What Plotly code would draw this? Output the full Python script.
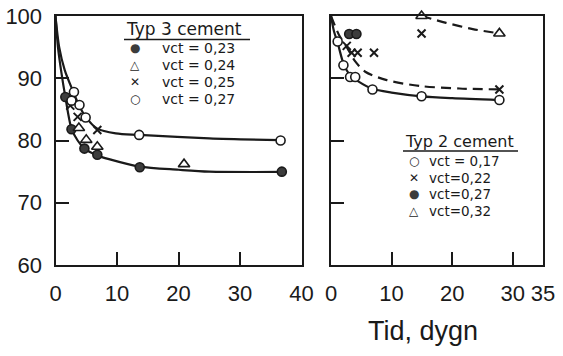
import plotly.graph_objects as go

# ---- Typ 3 cement (left panel) ----
t3_023_x = [1.6, 2.6, 4.7, 6.8, 13.7, 36.8]
t3_023_y = [87.0, 81.8, 78.7, 77.7, 75.7, 75.0]
t3_024_x = [3.8, 5.0, 6.8, 20.9]
t3_024_y = [82.0, 80.1, 79.0, 76.2]
t3_025_x = [2.4, 3.6, 6.8]
t3_025_y = [85.6, 83.8, 81.7]
t3_027_x = [3.0, 2.6, 3.9, 4.9, 13.6, 36.6]
t3_027_y = [87.8, 86.4, 85.7, 83.7, 80.9, 80.0]

# hand-fitted curves, Typ 3
t3_low_x = [0, 0.4, 0.9, 1.6, 2.6, 3.6, 4.7, 6.8, 8.7, 13.7, 20, 25, 36.8]
t3_low_y = [100, 95.0, 91.3, 87.0, 81.9, 80.0, 78.7, 77.6, 77.0, 75.8, 75.3, 75.0, 74.95]
t3_up_x = [0, 0.6, 1.5, 2.9, 3.9, 4.9, 6.8, 9.8, 13.6, 25, 36.6]
t3_up_y = [100, 95.0, 91.3, 87.8, 85.5, 83.8, 81.9, 81.15, 80.9, 80.35, 80.05]

# ---- Typ 2 cement (right panel) ----
t2_017_x = [1.1, 2.05, 3.15, 4.0, 6.85, 14.95, 27.8]
t2_017_y = [95.9, 92.1, 90.2, 90.2, 88.2, 87.1, 86.5]
t2_022_x = [2.6, 3.4, 4.4, 7.1, 14.95, 27.8]
t2_022_y = [95.2, 94.1, 94.1, 94.1, 97.2, 88.2]
t2_027_x = [3.0, 4.2]
t2_027_y = [97.1, 97.1]
t2_032_x = [14.95, 27.8]
t2_032_y = [100.0, 97.2]

# hand-fitted curves, Typ 2
t2_solid_x = [0, 0.5, 1.1, 2.05, 3.15, 4.5, 6.85, 10, 14.95, 20, 27.8]
t2_solid_y = [100, 97.5, 95.7, 92.4, 90.5, 89.5, 88.3, 87.7, 87.1, 86.8, 86.5]
t2_dlow_x = [0, 1.3, 2.6, 4.0, 5.65, 9.2, 14.7, 21.2, 27.8]
t2_dlow_y = [100, 97.0, 95.0, 92.7, 91.05, 89.7, 88.75, 88.35, 88.2]
t2_dup_x = [14.95, 19, 23.4, 27.8]
t2_dup_y = [100.0, 98.9, 97.9, 97.2]

# axis labels
left_ticks = [0, 10, 20, 30, 40]
right_ticks = [0, 10, 20, 30, 35]
y_ticks = [60, 70, 80, 90, 100]
x_title = "Tid, dygn"

legend3_title = "Typ 3 cement"
legend3_rows = ["vct = 0,23", "vct = 0,24", "vct = 0,25", "vct = 0,27"]
legend2_title = "Typ 2 cement"
legend2_rows = ["vct = 0,17", "vct=0,22", "vct=0,27", "vct=0,32"]

INK = "#1a1a1a"
FILL = "#3c3c3c"
W, H = 563, 356
FONT = "Liberation Sans"

fig = go.Figure()


def curve(x, y, xa, ya, dash="solid"):
    fig.add_trace(go.Scatter(x=x, y=y, xaxis=xa, yaxis=ya, mode="lines",
                             line=dict(color=INK, width=2.2, shape="spline",
                                       smoothing=0.8, dash=dash),
                             showlegend=False, hoverinfo="skip"))


def points(x, y, xa, ya, symbol, fill, size=9):
    lw = 2 if "x" in symbol else 1.6
    fig.add_trace(go.Scatter(x=x, y=y, xaxis=xa, yaxis=ya, mode="markers",
                             cliponaxis=False,
                             marker=dict(symbol=symbol, size=size, color=fill,
                                         line=dict(color=INK, width=lw)),
                             showlegend=False))


curve(t3_low_x, t3_low_y, "x", "y")
curve(t3_up_x, t3_up_y, "x", "y")
curve(t2_solid_x, t2_solid_y, "x2", "y2")
curve(t2_dlow_x, t2_dlow_y, "x2", "y2", dash="10px,6px")
curve(t2_dup_x, t2_dup_y, "x2", "y2", dash="10px,6px")

points(t3_023_x, t3_023_y, "x", "y", "circle", FILL)
points(t3_024_x, t3_024_y, "x", "y", "triangle-up", "white", 10)
points(t3_025_x, t3_025_y, "x", "y", "x-thin-open", INK, 8)
points(t3_027_x, t3_027_y, "x", "y", "circle", "white")

points(t2_017_x, t2_017_y, "x2", "y2", "circle", "white")
points(t2_022_x, t2_022_y, "x2", "y2", "x-thin-open", INK, 8)
points(t2_027_x, t2_027_y, "x2", "y2", "circle", FILL)
points(t2_032_x, t2_032_y, "x2", "y2", "triangle-up", "white", 10)


def px(v):
    return v / W


def py(v):
    return 1 - v / H


common_x = dict(showline=True, linecolor=INK, linewidth=2, mirror=True,
                ticks="inside", ticklen=13, tickwidth=1.5, tickcolor=INK,
                showgrid=False, zeroline=False, automargin=False,
                tickfont=dict(family=FONT, size=22, color=INK),
                ticklabelstandoff=8)
common_y = dict(showline=True, linecolor=INK, linewidth=2, mirror=True,
                ticks="inside", ticklen=13, tickwidth=1.5, tickcolor=INK,
                showgrid=False, zeroline=False, range=[60, 100], automargin=False,
                tickvals=y_ticks, domain=[py(265), py(16)],
                tickfont=dict(family=FONT, size=22, color=INK))

fig.update_layout(
    width=W, height=H, margin=dict(l=0, r=0, t=0, b=0),
    paper_bgcolor="white", plot_bgcolor="white", showlegend=False,
    xaxis=dict(common_x, range=[0, 40], tickvals=left_ticks,
               domain=[px(55.5), px(301.5)], anchor="y"),
    yaxis=dict(common_y, anchor="x", ticklabelstandoff=7),
    xaxis2=dict(common_x, range=[0, 35], tickvals=right_ticks,
                domain=[px(331), px(543)], anchor="y2"),
    yaxis2=dict(common_y, anchor="x2", showticklabels=False),
)

ann = []
ann.append(dict(text=x_title, x=px(423), y=py(331), xref="paper", yref="paper",
                xanchor="center", yanchor="middle", showarrow=False,
                font=dict(family=FONT, size=27, color=INK)))

# legend blocks: title with underline, then symbol + label rows
symbols3 = [("●", FILL), ("△", INK), ("✕", INK), ("○", INK)]
symbols2 = [("○", INK), ("✕", INK), ("●", FILL), ("△", INK)]


def legend_block(title, rows, syms, x_title0, y_title, x_sym, x_txt, y_rows,
                 fs_title, fs_row):
    ann.append(dict(text=title, x=px(x_title0), y=py(y_title), xref="paper",
                    yref="paper", xanchor="left", yanchor="middle",
                    showarrow=False,
                    font=dict(family="DejaVu Sans", size=fs_title, color=INK)))
    for (s, c), r, yr in zip(syms, rows, y_rows):
        ann.append(dict(text=s, x=px(x_sym), y=py(yr), xref="paper", yref="paper",
                        xanchor="center", yanchor="middle", showarrow=False,
                        font=dict(family="DejaVu Sans", size=12, color=c)))
        ann.append(dict(text=r, x=px(x_txt), y=py(yr), xref="paper", yref="paper",
                        xanchor="left", yanchor="middle", showarrow=False,
                        font=dict(family="DejaVu Sans", size=fs_row, color=INK)))


legend_block(legend3_title, legend3_rows, symbols3, 124, 29, 135, 160,
             [48, 65, 82, 99], 17, 14)
legend_block(legend2_title, legend2_rows, symbols2, 403, 141, 414, 427,
             [161, 177.5, 194, 210.5], 16, 13.5)

shapes = [
    dict(type="line", xref="paper", yref="paper", x0=px(124), x1=px(250),
         y0=py(39.5), y1=py(39.5), line=dict(color=INK, width=1.5)),
    dict(type="line", xref="paper", yref="paper", x0=px(403), x1=px(518),
         y0=py(151), y1=py(151), line=dict(color=INK, width=1.5)),
]

fig.update_layout(annotations=ann, shapes=shapes)
fig.write_html("out.html")
